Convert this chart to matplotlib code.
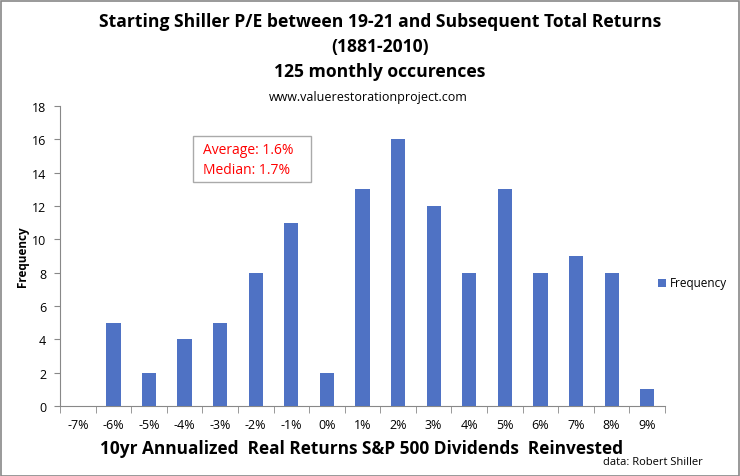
import matplotlib
matplotlib.use("Agg")
import matplotlib.pyplot as plt
from matplotlib import font_manager
import numpy as np

categories = ["-7%", "-6%", "-5%", "-4%", "-3%", "-2%", "-1%", "0%", "1%", "2%",
              "3%", "4%", "5%", "6%", "7%", "8%", "9%"]
frequency = [0, 5, 2, 4, 5, 8, 11, 2, 13, 16, 12, 8, 13, 8, 9, 8, 1]
yticks = [0, 2, 4, 6, 8, 10, 12, 14, 16, 18]

names = {f.name for f in font_manager.fontManager.ttflist}
fam = ["Liberation Sans Narrow"] if "Liberation Sans Narrow" in names else ["Open Sans"]
plt.rcParams['font.family'] = fam + ["DejaVu Sans"]

W, H = 740, 477
fig = plt.figure(figsize=(W/100, H/100), dpi=100)
ax = fig.add_axes([60/W, 1-407/H, (665-60)/W, (407-107)/H])

x = np.arange(len(categories))
bar_color = "#4f72c4"
ax.bar(x, frequency, width=0.4, color=bar_color, label="Frequency", zorder=3)
ax.set_xlim(-0.5, len(categories)-0.5)
ax.set_ylim(0, 18)
ax.set_yticks(yticks)
ax.set_yticklabels([str(v) for v in yticks], fontsize=9)
ax.set_xticks(x)
ax.set_xticklabels(categories, fontsize=9)
ax.set_xticks(np.arange(-0.5, len(categories), 1), minor=True)
ax.tick_params(axis='x', which='major', length=0, pad=9)
ax.tick_params(axis='x', which='minor', length=5, color="#888888", direction='out')
ax.tick_params(axis='y', length=4, color="#888888", direction='out', pad=6)
for s in ["top", "right"]:
    ax.spines[s].set_visible(False)
ax.spines["left"].set_color("#888888")
ax.spines["bottom"].set_color("#888888")

ax.set_ylabel("Frequency", fontsize=8.5, fontweight='bold')
ax.yaxis.set_label_coords((29-60)/605, 0.5)

fig.text(380/W, 1-22/H, "Starting Shiller P/E between 19-21 and Subsequent Total Returns",
         ha='center', va='center', fontsize=12.6, fontweight='bold')
fig.text(380/W, 1-47/H, "(1881-2010)", ha='center', va='center', fontsize=12.6, fontweight='bold')
fig.text(380/W, 1-72/H, "125 monthly occurences", ha='center', va='center', fontsize=12.6, fontweight='bold')
fig.text(368/W, 1-97/H, "www.valuerestorationproject.com", ha='center', va='center', fontsize=9)

fig.text(362/W, 1-449/H, "10yr Annualized  Real Returns S&P 500 Dividends  Reinvested",
         ha='center', va='center', fontsize=12.4, fontweight='bold')
fig.text(703/W, 1-463/H, "data: Robert Shiller", ha='right', va='center', fontsize=8)

# Annotation box
fig.patches.append(plt.Rectangle((193/W, 1-183/H), (311-193)/W, (183-137)/H,
                                 transform=fig.transFigure, facecolor='white',
                                 edgecolor='#aaaaaa', linewidth=1, zorder=5))
fig.text(203/W, 1-151/H, "Average: 1.6%", color='#ff0000', fontsize=10, va='center', zorder=6)
fig.text(203/W, 1-170/H, "Median: 1.7%", color='#ff0000', fontsize=10, va='center', zorder=6)

# Legend
fig.patches.append(plt.Rectangle((658/W, 1-288/H), 8/W, 8/H, transform=fig.transFigure,
                                 facecolor=bar_color, edgecolor='none'))
fig.text(670/W, 1-284/H, "Frequency", fontsize=8.5, va='center')

# Outer border
fig.patches.append(plt.Rectangle((0.5/W, 0.5/H), (W-2)/W, (H-2)/H, transform=fig.transFigure,
                                 facecolor='none', edgecolor='#888888', linewidth=1.2))

fig.savefig("out.png", dpi=100)
